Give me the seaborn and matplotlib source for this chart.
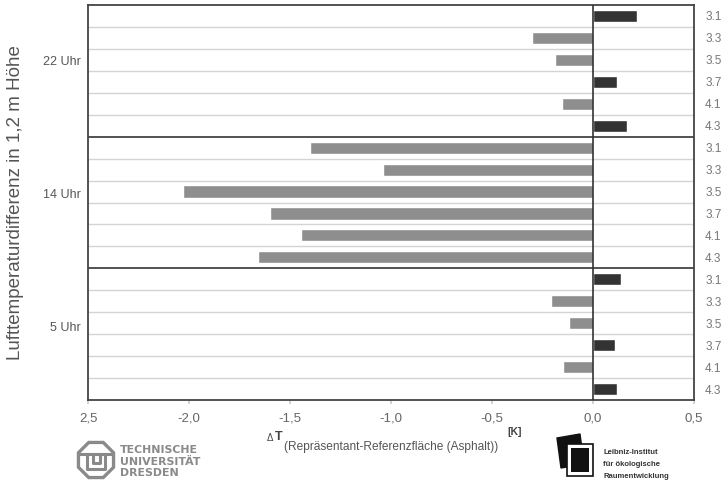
import numpy as np
import pandas as pd
import seaborn as sns
import matplotlib.pyplot as plt
from matplotlib.patches import RegularPolygon, Rectangle, Polygon

# data
groups = ['22 Uhr', '14 Uhr', '5 Uhr']
stations = ['3.1', '3.3', '3.5', '3.7', '4.1', '4.3']
values_22 = [0.22, -0.30, -0.19, 0.12, -0.155, 0.17]
values_14 = [-1.40, -1.04, -2.03, -1.60, -1.445, -1.66]
values_5 = [0.14, -0.21, -0.12, 0.11, -0.15, 0.12]
xticks = [-2.5, -2.0, -1.5, -1.0, -0.5, 0.0, 0.5]
xticklabels = ['2,5', '-2,0', '-1,5', '-1,0', '-0,5', '0,0', '0,5']

rows = []
for g, vals in zip(groups, [values_22, values_14, values_5]):
    for s, v in zip(stations, vals):
        rows.append({'row': g + ' ' + s, 'station': s, 'value': v,
                     'sign': 'pos' if v >= 0 else 'neg'})
df = pd.DataFrame(rows)

sns.set_theme(style='white')
plt.rcParams['font.family'] = ['Liberation Sans', 'DejaVu Sans']

W, H = 726, 483
fig = plt.figure(figsize=(W / 100, H / 100), dpi=100)
ax = fig.add_axes([88 / W, 1 - 400 / H, (694 - 88) / W, (400 - 5) / H])

sns.barplot(data=df, x='value', y='row', hue='sign',
            palette={'pos': '#333333', 'neg': '#8e8e8e'},
            dodge=False, width=0.55, legend=False, ax=ax, saturation=1)

n = len(df)
for i in range(n - 1):
    if (i + 1) % 6 == 0:
        ax.axhline(i + 0.5, color='#444444', lw=1.3, zorder=3)
    else:
        ax.axhline(i + 0.5, color='#d4d4d4', lw=1.0, zorder=0)
ax.axvline(0, color='#333333', lw=1.2, zorder=3)

ax.set_xlim(-2.5, 0.5)
ax.set_ylim(n - 0.5, -0.5)
ax.set_xticks(xticks)
ax.set_xticklabels(xticklabels, fontsize=9.5, color='#666666')
ax.tick_params(axis='x', bottom=True, length=3, color='#cccccc', pad=6)
ax.yaxis.tick_right()
ax.set_yticks(range(n))
ax.set_yticklabels(df['station'], fontsize=8.5, color='#777777')
ax.tick_params(axis='y', right=False, length=0, pad=8)
ax.set_xlabel('')
ax.set_ylabel('')
for sp in ax.spines.values():
    sp.set_color('#444444')
    sp.set_linewidth(1.3)

# group labels on the left
for pos, g in zip([2.1, 8.15, 14.2], groups):
    ax.text(-0.012, pos, g, transform=ax.get_yaxis_transform(),
            ha='right', va='center', fontsize=9, color='#555555')

fig.text(16 / W, 1 - 203 / H, 'Lufttemperaturdifferenz in 1,2 m Höhe',
         rotation=90, ha='center', va='center', fontsize=13.5, color='#555555')

# x axis label with sub/superscript parts
fig.text(267 / W, 1 - 438 / H, 'Δ', fontsize=7, color='#444444', va='center')
fig.text(275 / W, 1 - 437 / H, 'T', fontsize=9, fontweight='bold', color='#444444', va='center')
fig.text(284 / W, 1 - 447 / H, '(Repräsentant-Referenzfläche (Asphalt))',
         fontsize=8.6, color='#555555', va='center')
fig.text(507 / W, 1 - 432 / H, '[K]', fontsize=7.5, fontweight='bold', color='#444444', va='center')

# logos drawn in pixel coordinates
lax = fig.add_axes([0, 0, 1, 1], zorder=-1)
lax.set_xlim(0, W)
lax.set_ylim(H, 0)
lax.axis('off')

tu = '#8a8a8a'
lax.add_patch(RegularPolygon((96, 460), 8, radius=19, orientation=np.pi / 8,
                             fill=False, ec=tu, lw=2.4))
lax.plot([80, 112], [454, 454], color=tu, lw=2.2)
lax.plot([87, 87, 105, 105], [454, 469, 469, 454], color=tu, lw=2.2)
lax.plot([92.5, 92.5, 99.5, 99.5], [454, 463, 463, 454], color=tu, lw=2.2)
for k, line in enumerate(['TECHNISCHE', 'UNIVERSITÄT', 'DRESDEN']):
    lax.text(120, 450 + k * 11.5, line, fontsize=7.9, fontweight='bold', color=tu,
             va='center', ha='left', family=['DejaVu Sans'])

lax.add_patch(Polygon([(557, 438), (580, 434), (584, 464), (561, 468)], color='#111111'))
lax.add_patch(Rectangle((567, 444), 26, 32, fc='white', ec='#111111', lw=1.2))
lax.add_patch(Rectangle((571, 448), 18, 24, fc='#111111', ec='none'))
for k, line in enumerate(['Leibniz-Institut', 'für ökologische', 'Raumentwicklung']):
    lax.text(603, 453 + k * 11.5, line, fontsize=5.5, color='#333333',
             va='center', ha='left', fontweight='bold')

fig.savefig('out.png', dpi=100)
